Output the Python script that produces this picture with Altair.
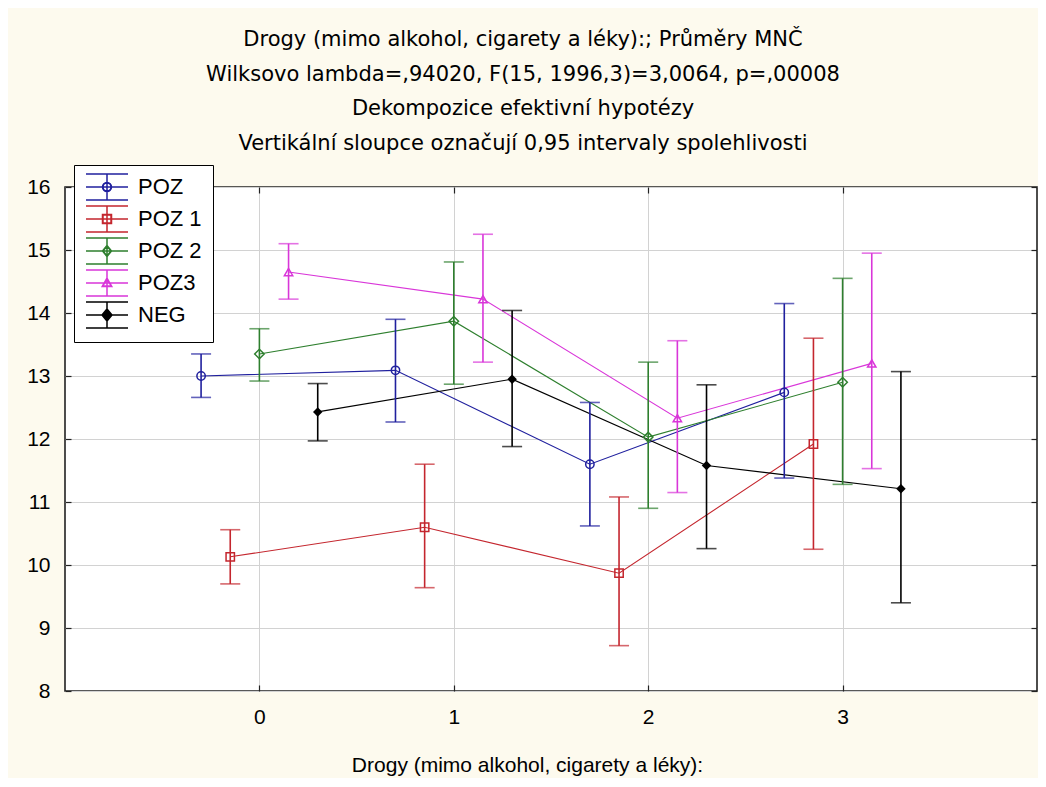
import altair as alt
import pandas as pd

# ---------------- data ----------------
series = ["POZ", "POZ 1", "POZ 2", "POZ3", "NEG"]
groups = [0, 1, 2, 3]
offsets = [-0.3, -0.15, 0.0, 0.15, 0.3]   # horizontal dodge of each series inside a group
colors = ["#20209E", "#C4262E", "#2E7F2E", "#D936D9", "#000000"]

poz_mean = [13.00, 13.09, 11.60, 12.74]
poz_lo = [12.66, 12.27, 10.62, 11.38]
poz_hi = [13.35, 13.90, 12.58, 14.15]

poz1_mean = [10.13, 10.60, 9.87, 11.92]
poz1_lo = [9.70, 9.64, 8.72, 10.25]
poz1_hi = [10.56, 11.60, 11.08, 13.60]

poz2_mean = [13.35, 13.87, 12.03, 12.90]
poz2_lo = [12.92, 12.87, 10.90, 11.28]
poz2_hi = [13.75, 14.81, 13.22, 14.55]

poz3_mean = [14.65, 14.22, 12.33, 13.20]
poz3_lo = [14.22, 13.22, 11.15, 11.53]
poz3_hi = [15.10, 15.25, 13.56, 14.95]

neg_mean = [12.43, 12.95, 11.58, 11.21]
neg_lo = [11.97, 11.88, 10.26, 9.40]
neg_hi = [12.88, 14.04, 12.86, 13.07]

title_lines = [
    "Drogy (mimo alkohol, cigarety a léky):; Průměry MNČ",
    "Wilksovo lambda=,94020, F(15, 1996,3)=3,0064, p=,00008",
    "Dekompozice efektivní hypotézy",
    "Vertikální sloupce označují 0,95 intervaly spolehlivosti",
]
x_title = "Drogy (mimo alkohol, cigarety a léky):"
y_ticks = [8, 9, 10, 11, 12, 13, 14, 15, 16]

# ---------------- table ----------------
means = [poz_mean, poz1_mean, poz2_mean, poz3_mean, neg_mean]
los = [poz_lo, poz1_lo, poz2_lo, poz3_lo, neg_lo]
his = [poz_hi, poz1_hi, poz2_hi, poz3_hi, neg_hi]
rows = []
for si, s in enumerate(series):
    for gi, g in enumerate(groups):
        rows.append({
            "series": s,
            "xpos": g + offsets[si],
            "mean": means[si][gi],
            "lo": los[si][gi],
            "hi": his[si][gi],
        })
df = pd.DataFrame(rows)

FONT = "Liberation Sans"
TFONT = "DejaVu Sans"
FS = 21
W, H = 972, 504

x_scale = alt.Scale(domain=[-1, 4], nice=False, zero=False)
y_scale = alt.Scale(domain=[8, 16], nice=False, zero=False)
color_scale = alt.Scale(domain=series, range=colors)

# main axes (labels, titles, grid)
x_main = alt.X(
    "xpos:Q", scale=x_scale,
    axis=alt.Axis(orient="bottom", values=groups, format="d", title=x_title, grid=True,
                  gridColor="#D2D2D2", domain=False, ticks=False,
                  labelPadding=15, labelFontSize=FS, labelFont=FONT, labelColor="black",
                  titleFontSize=FS, titleFont=FONT, titleFontWeight="normal", titleColor="black",
                  titleX=462, titleY=80, titleAlign="center", titleAnchor="start",
                  titleBaseline="alphabetic"),
)
y_main_axis = alt.Axis(orient="left", values=y_ticks, title=None, grid=True, gridColor="#D2D2D2",
                       domain=False, ticks=False, labelPadding=15,
                       labelFontSize=FS, labelFont=FONT, labelColor="black")
x_plain = alt.X("xpos:Q", scale=x_scale, axis=None)


def y_plain(field):
    return alt.Y(field, scale=y_scale, axis=None)


def tick_axis(orient, values, offset):
    # ticks only, moved onto the opposite side of the frame so they point inwards
    return alt.Axis(orient=orient, values=values, offset=offset, labels=False, grid=False,
                    domain=False, ticks=True, tickSize=6, tickWidth=1.2, tickColor="#222222",
                    title=None)


# ---------------- legend glyphs: error bar with the marker in its middle ----------------
DX = 1.1  # shift of the glyph to the right inside the legend


def fmt(v):
    return f"{v:.3f}".rstrip("0").rstrip(".")


def poly(points):
    return "M" + "L".join(f"{fmt(x + DX)},{fmt(y)}" for x, y in points) + "Z"


def ring(r_out, r_in):
    o = (f"M{fmt(DX + r_out)},0A{r_out},{r_out},0,1,1,{fmt(DX - r_out)},0"
         f"A{r_out},{r_out},0,1,1,{fmt(DX + r_out)},0Z")
    i = (f"M{fmt(DX + r_in)},0A{r_in},{r_in},0,1,0,{fmt(DX - r_in)},0"
         f"A{r_in},{r_in},0,1,0,{fmt(DX + r_in)},0Z")
    return o + i


bar_glyph = (f"M{fmt(DX - 2.1)},-1.3H{fmt(DX + 2.1)}"
             f"M{fmt(DX - 2.1)},0H{fmt(DX + 2.1)}"
             f"M{fmt(DX - 2.1)},1.3H{fmt(DX + 2.1)}"
             f"M{fmt(DX)},-1.3V1.3")

legend_paths = [
    bar_glyph + ring(0.45, 0.40),
    bar_glyph + poly([(-0.45, -0.45), (0.45, -0.45), (0.45, 0.45), (-0.45, 0.45)])
    + poly([(-0.40, -0.40), (-0.40, 0.40), (0.40, 0.40), (0.40, -0.40)]),
    bar_glyph + poly([(0, -0.55), (0.45, 0), (0, 0.55), (-0.45, 0)])
    + poly([(0, -0.49), (-0.40, 0), (0, 0.49), (0.40, 0)]),
    bar_glyph + poly([(0, -0.5), (0.48, 0.35), (-0.48, 0.35)])
    + poly([(0, -0.42), (-0.41, 0.30), (0.41, 0.30)]),
    bar_glyph + poly([(0, -0.6), (0.5, 0), (0, 0.6), (-0.5, 0)]),
]

leg = alt.Legend(
    title=None, orient="none", legendX=9, legendY=-22,
    padding=11, strokeColor="black", fillColor="white",
    symbolSize=400, symbolStrokeWidth=1.5, symbolOpacity=1, rowPadding=0,
    labelFontSize=22, labelFont=FONT, labelColor="black", labelOffset=31,
)

color_enc = alt.Color("series:N", scale=color_scale, legend=leg)

base = alt.Chart(df)

lines = base.mark_line(strokeWidth=1.1).encode(
    x=x_main,
    y=alt.Y("mean:Q", scale=y_scale, axis=y_main_axis),
    color=color_enc,
    order="xpos:Q",
)

bars = base.mark_rule(strokeWidth=1.6).encode(
    x=x_plain, y=y_plain("lo:Q"), y2="hi:Q", color=color_enc,
)

cap_hi = base.mark_tick(orient="horizontal", size=20, thickness=1.6).encode(
    x=x_plain, y=y_plain("hi:Q"), color=color_enc)
cap_lo = base.mark_tick(orient="horizontal", size=20, thickness=1.6).encode(
    x=x_plain, y=y_plain("lo:Q"), color=color_enc)

marker_shapes = ["circle", "square", "diamond", "triangle-up", "diamond"]
marker_layers = []
for s, shp in zip(series, marker_shapes):
    filled = (s == "NEG")
    m = base.transform_filter(alt.datum.series == s).mark_point(
        shape=shp, size=70 if shp != "diamond" else 90, strokeWidth=1.5,
        filled=filled, opacity=1,
    ).encode(x=x_plain, y=y_plain("mean:Q"), color=color_enc)
    marker_layers.append(m)

legend_layer = base.transform_filter("false").mark_point(strokeWidth=1.5).encode(
    x=x_plain,
    y=y_plain("mean:Q"),
    color=color_enc,
    shape=alt.Shape("series:N", scale=alt.Scale(domain=series, range=legend_paths), legend=leg),
)

# inward tick marks on all four sides of the frame
ticks_a = base.transform_filter("false").mark_point().encode(
    x=alt.X("xpos:Q", scale=x_scale, axis=tick_axis("top", groups, -H)),
    y=alt.Y("mean:Q", scale=y_scale, axis=tick_axis("right", y_ticks, -W)),
)
ticks_b = base.transform_filter("false").mark_point().encode(
    x=alt.X("xpos:Q", scale=x_scale, axis=tick_axis("bottom", groups, -H)),
    y=alt.Y("mean:Q", scale=y_scale, axis=tick_axis("left", y_ticks, -W)),
)

chart = alt.layer(
    lines, bars, cap_hi, cap_lo, *marker_layers, legend_layer, ticks_a, ticks_b
).resolve_axis(
    x="independent", y="independent"
).properties(
    width=W,
    height=H,
    padding={"left": 57, "top": 179, "right": 1, "bottom": 87},
    autosize=alt.AutoSizeParams(type="none"),
    background="#FDFAEE",
    title=alt.TitleParams(
        text=title_lines, fontSize=21, font=TFONT, fontWeight="normal", color="black",
        anchor="middle", dx=-28, lineHeight=34.5, offset=11,
    ),
).configure_view(
    fill="white", stroke="#222222", strokeWidth=1.6,
)

chart.save("out.html", embed_options={"renderer": "svg", "actions": False})
